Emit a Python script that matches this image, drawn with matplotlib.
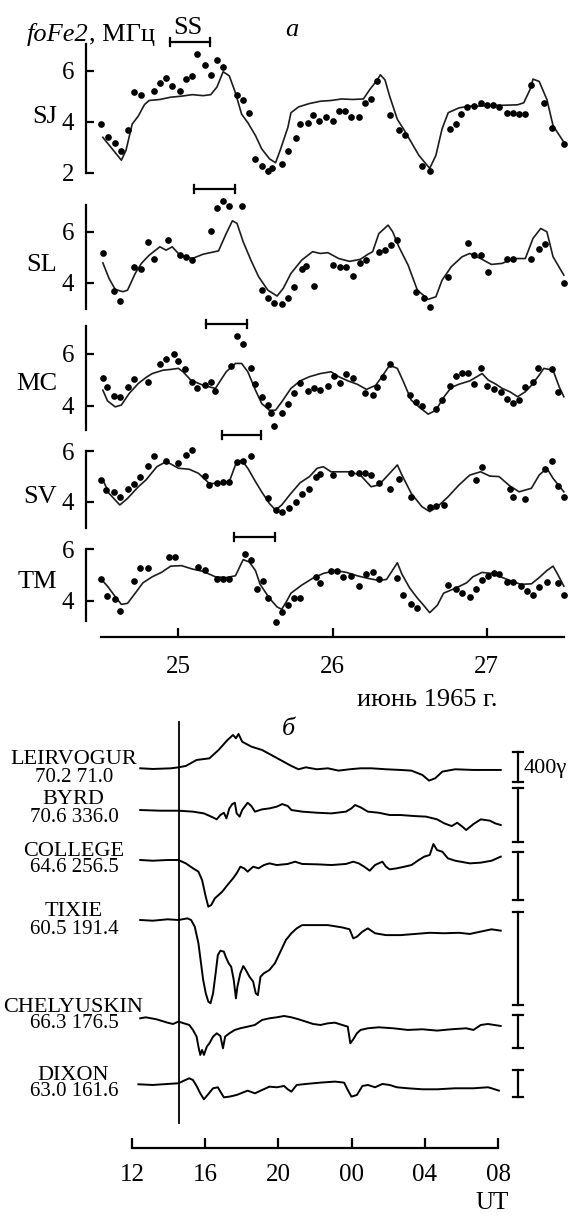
import numpy as np
import matplotlib
matplotlib.use("Agg")
import matplotlib.pyplot as plt
from matplotlib.text import Annotation
from matplotlib.transforms import blended_transform_factory

plt.rcParams['font.family'] = ['Liberation Serif', 'DejaVu Serif']
plt.rcParams['font.size'] = 18

# ---------------- (a) foF2 at five stations, 24-27 June 1965 (day of month) ----------------
sj_dot_t = [24.50, 24.545, 24.59, 24.63, 24.67, 24.71, 24.76, 24.84, 24.88, 24.92, 24.96, 25.01, 25.05, 25.09, 25.12,
            25.17, 25.21, 25.25, 25.29, 25.38, 25.42, 25.46, 25.50, 25.54, 25.58, 25.61, 25.67, 25.71, 25.76, 25.79,
            25.84, 25.87, 25.91, 25.96, 26.00, 26.04, 26.08, 26.12, 26.17, 26.21, 26.25, 26.29, 26.37, 26.43, 26.47,
            26.58, 26.63, 26.76, 26.80, 26.83, 26.87, 26.92, 26.96, 27.00, 27.04, 27.08, 27.13, 27.17, 27.21, 27.25,
            27.29, 27.37, 27.42, 27.50]
sj_dot_f = [3.91, 3.39, 3.17, 2.85, 3.69, 5.17, 5.06, 5.23, 5.52, 5.72, 5.42, 5.21, 5.70, 5.81, 6.68,
            6.22, 5.83, 6.43, 6.17, 5.05, 4.85, 4.34, 2.54, 2.27, 2.08, 2.18, 2.34, 2.85, 3.38, 3.92,
            3.94, 4.26, 4.05, 4.19, 4.03, 4.44, 4.44, 4.19, 4.18, 4.75, 4.90, 5.60, 4.25, 3.66, 3.47,
            2.27, 2.08, 3.72, 3.90, 4.30, 4.59, 4.61, 4.75, 4.66, 4.68, 4.58, 4.36, 4.36, 4.32, 4.32,
            5.46, 4.75, 3.74, 3.12]
sj_line_t = [24.51, 24.63, 24.66, 24.70, 24.74, 24.78, 24.81, 24.88, 24.95, 25.02, 25.09, 25.16, 25.21, 25.25, 25.29,
             25.33, 25.37, 25.41, 25.45, 25.50, 25.54, 25.59, 25.63, 25.66, 25.71, 25.73, 25.78, 25.85, 25.92, 25.99,
             26.06, 26.13, 26.20, 26.24, 26.29, 26.31, 26.34, 26.37, 26.42, 26.46, 26.51, 26.56, 26.63, 26.67, 26.71,
             26.75, 26.82, 26.89, 26.96, 27.03, 27.10, 27.20, 27.24, 27.28, 27.30, 27.34, 27.39, 27.43, 27.50]
sj_line_f = [3.39, 2.49, 2.88, 3.91, 4.23, 4.68, 4.84, 4.88, 4.97, 5.01, 5.07, 5.03, 5.07, 5.37, 5.97,
             5.81, 5.14, 4.30, 3.97, 3.46, 2.94, 2.55, 2.39, 2.88, 3.78, 4.36, 4.59, 4.72, 4.81, 4.84,
             4.90, 4.88, 4.90, 5.26, 5.65, 5.85, 5.65, 5.01, 4.10, 3.72, 3.20, 2.68, 2.17, 2.68, 3.72,
             4.36, 4.55, 4.62, 4.62, 4.65, 4.65, 4.67, 4.75, 5.26, 5.68, 5.59, 4.88, 3.85, 3.20]

sl_dot_t = [24.51, 24.58, 24.62, 24.71, 24.76, 24.80, 24.84, 24.93, 25.01, 25.05, 25.09, 25.21, 25.25, 25.29, 25.33,
            25.41, 25.54, 25.58, 25.62, 25.67, 25.71, 25.75, 25.80, 25.83, 25.88, 26.00, 26.05, 26.09, 26.13, 26.18,
            26.22, 26.30, 26.34, 26.38, 26.42, 26.54, 26.59, 26.63, 26.75, 26.88, 26.92, 26.96, 27.01, 27.13, 27.17,
            27.29, 27.34, 27.38, 27.50]
sl_dot_f = [5.15, 3.67, 3.29, 4.60, 4.55, 5.58, 4.92, 5.69, 5.08, 5.02, 4.88, 6.04, 6.93, 7.22, 7.01,
            7.01, 3.70, 3.42, 3.19, 3.15, 3.39, 3.84, 4.54, 4.65, 3.87, 4.69, 4.61, 4.61, 4.26, 4.77,
            4.88, 5.20, 5.27, 5.48, 5.66, 3.63, 3.40, 3.06, 4.21, 5.56, 5.07, 5.07, 4.42, 4.94, 4.95,
            4.94, 5.33, 5.52, 4.01]
sl_line_t = [24.51, 24.55, 24.59, 24.64, 24.67, 24.72, 24.76, 24.81, 24.88, 24.92, 24.96, 25.01, 25.09, 25.16, 25.26,
             25.31, 25.35, 25.38, 25.42, 25.47, 25.52, 25.58, 25.64, 25.68, 25.73, 25.80, 25.87, 25.92, 25.97, 26.04,
             26.11, 26.18, 26.23, 26.26, 26.30, 26.36, 26.39, 26.43, 26.49, 26.55, 26.62, 26.67, 26.71, 26.77, 26.84,
             26.89, 26.96, 27.03, 27.10, 27.17, 27.25, 27.30, 27.35, 27.39, 27.43, 27.50]
sl_line_f = [4.78, 4.17, 3.74, 3.65, 3.71, 4.37, 4.76, 5.08, 5.41, 5.28, 5.41, 5.08, 4.95, 5.12, 5.25,
             5.93, 6.43, 6.33, 5.61, 4.89, 4.24, 3.71, 3.48, 3.78, 4.37, 4.89, 5.22, 5.15, 5.18, 4.95,
             4.84, 4.92, 5.12, 5.22, 5.93, 6.26, 6.00, 5.41, 4.69, 3.71, 3.35, 3.45, 4.10, 4.63, 5.02,
             5.15, 4.95, 4.72, 4.76, 4.95, 4.95, 5.74, 6.13, 6.00, 5.02, 4.30]

mc_dot_t = [24.51, 24.54, 24.58, 24.62, 24.67, 24.71, 24.80, 24.88, 24.92, 24.97, 25.00, 25.04, 25.09, 25.12, 25.17,
            25.21, 25.24, 25.34, 25.38, 25.42, 25.47, 25.50, 25.54, 25.58, 25.60, 25.62, 25.67, 25.71, 25.75, 25.79,
            25.84, 25.88, 25.92, 25.97, 26.01, 26.05, 26.09, 26.13, 26.21, 26.26, 26.29, 26.33, 26.37, 26.50, 26.54,
            26.58, 26.67, 26.71, 26.76, 26.80, 26.84, 26.88, 26.92, 26.96, 27.00, 27.05, 27.09, 27.13, 27.17, 27.21,
            27.25, 27.30, 27.33, 27.42, 27.46]
mc_dot_f = [5.08, 4.73, 4.37, 4.35, 4.73, 5.04, 4.91, 5.60, 5.81, 6.00, 5.72, 5.40, 4.92, 4.69, 4.81,
            4.91, 4.58, 5.54, 6.69, 6.37, 5.44, 4.83, 4.35, 4.04, 3.71, 3.22, 3.71, 4.06, 4.50, 4.87,
            4.58, 4.68, 4.59, 4.78, 5.14, 4.88, 5.22, 5.06, 4.50, 4.42, 4.73, 5.09, 5.59, 4.42, 4.13,
            4.00, 3.88, 4.22, 4.76, 5.14, 5.27, 5.26, 4.83, 5.44, 4.77, 4.65, 4.55, 4.26, 4.10, 4.22,
            4.71, 4.92, 5.44, 5.40, 4.54]
mc_line_t = [24.51, 24.54, 24.59, 24.63, 24.68, 24.74, 24.79, 24.83, 24.90, 24.95, 25.00, 25.03, 25.08, 25.16, 25.24,
             25.31, 25.37, 25.41, 25.45, 25.50, 25.54, 25.59, 25.63, 25.67, 25.73, 25.79, 25.85, 25.92, 25.99, 26.04,
             26.10, 26.16, 26.22, 26.28, 26.32, 26.37, 26.42, 26.46, 26.51, 26.56, 26.62, 26.67, 26.72, 26.77, 26.82,
             26.89, 26.97, 27.01, 27.06, 27.10, 27.15, 27.20, 27.25, 27.29, 27.34, 27.37, 27.43, 27.47, 27.50]
mc_line_f = [4.60, 4.19, 3.96, 4.03, 4.47, 4.86, 5.09, 5.24, 5.37, 5.40, 5.44, 5.31, 4.99, 4.79, 4.67,
             5.31, 5.63, 5.63, 5.31, 4.60, 4.09, 3.83, 3.83, 4.15, 4.67, 4.96, 5.12, 5.24, 5.31, 5.12,
             4.96, 4.83, 4.63, 4.79, 5.12, 5.56, 5.44, 4.92, 4.22, 3.96, 3.68, 3.83, 4.32, 4.71, 4.83,
             4.96, 5.24, 4.99, 4.83, 4.67, 4.54, 4.35, 4.54, 4.79, 5.18, 5.44, 5.37, 4.73, 4.35]

sv_dot_t = [24.50, 24.53, 24.58, 24.62, 24.67, 24.71, 24.75, 24.80, 24.84, 24.92, 25.00, 25.05, 25.09, 25.17, 25.20,
            25.25, 25.29, 25.33, 25.38, 25.42, 25.47, 25.58, 25.63, 25.67, 25.72, 25.76, 25.80, 25.85, 25.89, 25.92,
            26.00, 26.12, 26.17, 26.21, 26.25, 26.30, 26.37, 26.43, 26.51, 26.63, 26.67, 26.72, 26.93, 26.97, 27.15,
            27.17, 27.25, 27.38, 27.42, 27.46, 27.50]
sv_dot_f = [4.86, 4.46, 4.39, 4.17, 4.49, 4.68, 4.96, 5.42, 5.82, 5.62, 5.51, 5.86, 6.03, 5.03, 4.67,
            4.75, 4.79, 4.79, 5.55, 5.61, 5.82, 4.13, 3.67, 3.59, 3.74, 4.00, 4.30, 4.50, 4.99, 5.09,
            5.05, 5.12, 5.12, 5.12, 5.05, 4.72, 4.50, 4.88, 4.17, 3.80, 3.83, 3.87, 4.86, 5.36, 4.49,
            4.17, 4.09, 5.28, 5.62, 4.62, 4.17]
sv_line_t = [24.51, 24.55, 24.62, 24.67, 24.74, 24.79, 24.86, 24.92, 24.95, 25.00, 25.07, 25.13, 25.20, 25.26, 25.33,
             25.37, 25.41, 25.45, 25.50, 25.54, 25.59, 25.63, 25.67, 25.73, 25.79, 25.85, 25.90, 25.94, 25.99, 26.05,
             26.11, 26.18, 26.25, 26.30, 26.36, 26.42, 26.45, 26.51, 26.58, 26.63, 26.68, 26.75, 26.82, 26.89, 26.96,
             27.02, 27.08, 27.15, 27.21, 27.29, 27.34, 27.39, 27.43, 27.50]
sv_line_f = [4.86, 4.33, 3.87, 4.13, 4.59, 4.86, 5.38, 5.58, 5.49, 5.32, 5.28, 5.12, 4.72, 4.72, 4.79,
             5.45, 5.64, 5.32, 4.79, 4.39, 3.93, 3.67, 3.87, 4.33, 4.75, 4.99, 5.32, 5.38, 5.18, 5.18,
             5.18, 5.05, 4.59, 4.66, 5.05, 5.45, 5.05, 4.33, 3.80, 3.61, 3.80, 4.20, 4.66, 5.05, 5.18,
             5.01, 4.99, 4.62, 4.39, 4.53, 5.05, 5.32, 4.92, 4.39]

tm_dot_t = [24.50, 24.54, 24.59, 24.62, 24.71, 24.75, 24.80, 24.94, 24.98, 25.13, 25.17, 25.25, 25.29, 25.33, 25.43,
            25.47, 25.51, 25.55, 25.58, 25.63, 25.67, 25.71, 25.75, 25.79, 25.89, 25.92, 25.99, 26.03, 26.07, 26.12,
            26.17, 26.22, 26.26, 26.30, 26.42, 26.46, 26.51, 26.55, 26.75, 26.80, 26.84, 26.89, 26.93, 26.97, 27.01,
            27.05, 27.08, 27.13, 27.17, 27.22, 27.26, 27.30, 27.34, 27.39, 27.46, 27.50]
tm_dot_f = [4.83, 4.21, 4.08, 3.62, 4.77, 5.27, 5.27, 5.68, 5.70, 5.32, 5.19, 4.83, 4.83, 4.83, 5.79,
            5.59, 4.48, 4.77, 4.13, 3.21, 3.58, 3.84, 4.13, 4.13, 4.93, 4.70, 5.17, 5.17, 4.93, 4.97,
            4.57, 5.03, 5.10, 4.86, 4.87, 4.24, 3.87, 3.74, 4.61, 4.48, 4.30, 4.17, 4.48, 4.79, 4.97,
            5.06, 5.03, 4.73, 4.73, 4.57, 4.40, 4.24, 4.53, 4.73, 4.70, 4.24]
tm_line_t = [24.50, 24.54, 24.59, 24.63, 24.67, 24.72, 24.77, 24.83, 24.89, 24.95, 25.02, 25.09, 25.16, 25.24, 25.31,
             25.37, 25.42, 25.46, 25.50, 25.53, 25.59, 25.64, 25.67, 25.70, 25.73, 25.80, 25.87, 25.94, 26.02, 26.09,
             26.16, 26.23, 26.30, 26.35, 26.38, 26.42, 26.45, 26.50, 26.55, 26.59, 26.63, 26.68, 26.72, 26.80, 26.87,
             26.91, 26.97, 27.03, 27.09, 27.15, 27.22, 27.29, 27.34, 27.39, 27.43, 27.46, 27.50]
tm_line_f = [4.83, 4.57, 4.17, 3.87, 3.91, 4.30, 4.70, 4.93, 5.10, 5.34, 5.36, 5.23, 5.14, 4.93, 4.90,
             4.97, 5.59, 5.50, 5.17, 4.64, 4.11, 3.77, 3.68, 3.97, 4.30, 4.61, 4.87, 5.06, 5.17, 5.10,
             4.97, 4.87, 4.79, 4.83, 5.10, 5.47, 5.03, 4.50, 4.11, 3.84, 3.55, 3.84, 4.30, 4.50, 4.70,
             4.93, 5.10, 5.06, 4.93, 4.79, 4.64, 4.66, 4.90, 5.17, 5.34, 5.03, 4.57]

# storm (SS) intervals marked above each panel, days
ss_start = [24.946, 25.103, 25.180, 25.280, 25.358]
ss_end = [25.208, 25.365, 25.443, 25.535, 25.628]

# ---------------- (b) magnetograms, hours UT from 24 June 00 UT, deviation in gamma ----------------
stations = ["LEIRVOGUR", "BYRD", "COLLEGE", "TIXIE", "CHELYUSKIN", "DIXON"]
coords = ["70.2 71.0", "70.6 336.0", "64.6 256.5", "60.5 191.4", "66.3 176.5", "63.0 161.6"]

leir_h = [12.45, 13.14, 14.14, 14.54, 14.94, 15.53, 16.23, 16.73, 17.22, 17.52, 17.68, 17.82, 18.02, 18.52, 19.11,
          19.61, 20.11, 20.71, 21.10, 21.50, 22.10, 22.70, 23.29, 23.89, 24.49, 25.08, 25.88, 26.68, 27.27, 27.87,
          28.23, 28.57, 28.96, 29.66, 30.65, 31.45, 32.15]
leir_g = [0, -9, 0, 13, 31, 111, 133, 244, 378, 444, 400, 458, 355, 289, 244,
          178, 111, 31, -13, 13, -13, 0, -31, -13, 0, 0, -13, -22, -31, -89,
          -164, -133, -44, -13, -22, -22, -22]
byrd_h = [12.45, 13.54, 14.54, 15.33, 15.93, 16.33, 16.63, 16.83, 17.02, 17.16, 17.32, 17.48, 17.62, 17.72, 17.88,
          18.02, 18.32, 18.52, 18.72, 19.11, 19.51, 19.91, 20.21, 20.51, 20.71, 21.30, 22.10, 22.89, 23.69, 23.99,
          24.19, 24.49, 24.89, 25.48, 26.08, 26.68, 27.47, 28.07, 28.67, 29.07, 29.47, 29.77, 30.06, 30.26, 30.66,
          31.06, 31.56, 31.85, 32.15]
byrd_g = [5, 0, 0, -7, -20, -44, -64, -32, -15, -57, 17, 49, 59, -20, -44,
          5, 59, 35, -7, 10, 17, 30, 49, 35, 5, -7, -15, -20, -7, 17,
          42, 25, -7, -15, -32, -32, -40, -44, -64, -94, -114, -89, -119, -143, -99,
          -64, -74, -94, -106]
coll_h = [12.45, 13.14, 13.94, 14.54, 14.94, 15.33, 15.63, 15.83, 16.03, 16.17, 16.33, 16.53, 16.73, 16.93, 17.22,
          17.52, 17.72, 17.92, 18.12, 18.32, 18.62, 18.92, 19.21, 19.51, 19.91, 20.51, 20.91, 21.30, 22.10, 22.90,
          23.69, 24.09, 24.39, 24.69, 24.99, 25.28, 25.68, 25.88, 26.08, 26.48, 26.88, 27.27, 27.67, 27.97, 28.27,
          28.47, 28.67, 28.96, 29.26, 29.66, 30.46, 31.06, 31.65, 32.15]
coll_g = [0, -6, 0, 0, -28, -69, -97, -167, -306, -389, -375, -319, -292, -264, -208,
          -153, -111, -56, -69, -97, -56, -69, -42, -28, -42, -33, -14, -33, -36, -42,
          -33, -14, -28, -56, -89, -42, -14, -56, -78, -69, -56, -42, 0, 28, 42,
          133, 83, 69, 14, -6, -28, -22, -6, 28]
tixi_h = [12.45, 13.14, 13.94, 14.54, 15.03, 15.23, 15.43, 15.63, 15.77, 15.89, 16.03, 16.17, 16.29, 16.43, 16.57,
          16.69, 16.83, 17.02, 17.12, 17.28, 17.42, 17.56, 17.68, 17.76, 17.92, 18.08, 18.22, 18.42, 18.62, 18.76,
          18.88, 19.02, 19.21, 19.51, 19.81, 20.11, 20.41, 20.71, 21.00, 21.30, 21.90, 22.70, 23.49, 23.89, 24.09,
          24.29, 24.59, 24.89, 25.28, 25.88, 26.68, 27.47, 28.27, 29.06, 29.86, 30.46, 31.05, 31.65, 32.15]
tixi_g = [0, -3, 3, 0, 7, 0, -29, -100, -186, -258, -315, -351, -358, -315, -229,
          -151, -132, -136, -158, -186, -201, -258, -337, -287, -229, -198, -215, -244, -265, -315,
          -323, -244, -229, -215, -186, -136, -86, -57, -36, -22, -22, -22, -32, -40, -79,
          -72, -50, -36, -57, -65, -65, -60, -55, -57, -55, -60, -50, -40, -46]
chel_h = [12.45, 12.75, 13.34, 13.94, 14.24, 14.54, 14.84, 15.13, 15.33, 15.53, 15.63, 15.73, 15.83, 15.93, 16.09,
          16.23, 16.43, 16.63, 16.83, 16.97, 17.09, 17.32, 17.62, 17.92, 18.32, 18.71, 19.11, 19.51, 19.91, 20.31,
          20.71, 21.10, 21.50, 21.90, 22.30, 22.70, 23.09, 23.49, 23.79, 23.93, 24.09, 24.29, 24.49, 24.89, 25.48,
          26.28, 27.07, 27.87, 28.67, 29.46, 30.26, 30.66, 31.06, 31.45, 32.15]
chel_g = [0, 12, -12, -53, -69, -40, -61, -81, -141, -222, -343, -444, -384, -444, -343,
          -303, -222, -182, -214, -364, -222, -182, -141, -121, -101, -81, -20, 0, 12, 28,
          12, -12, -40, -69, -81, -61, -53, -81, -101, -303, -255, -182, -141, -121, -109,
          -121, -141, -133, -149, -133, -121, -141, -81, -69, -93]
dixo_h = [12.35, 13.14, 13.94, 14.54, 14.84, 15.13, 15.33, 15.53, 15.73, 15.93, 16.13, 16.43, 16.69, 16.83, 17.02,
          17.32, 17.72, 18.32, 18.72, 19.11, 19.51, 19.91, 20.31, 20.51, 20.71, 21.00, 21.50, 22.30, 23.09, 23.59,
          23.79, 23.99, 24.29, 24.59, 24.89, 25.28, 25.68, 26.08, 26.47, 27.07, 27.87, 28.67, 29.66, 30.66, 31.45,
          31.65, 32.05]
dixo_g = [0, -10, 5, 15, 54, 89, 64, -25, -134, -222, -158, -59, -44, -109, -193,
          -183, -158, -94, -134, -84, -35, -44, -25, -74, -109, -10, 5, 25, 40, 25,
          -84, -183, -158, -25, -10, -44, 5, -10, -44, -59, -74, -74, -59, -59, -44,
          -59, -94]

ssc_hour = 14.55          # vertical marker
scale_gamma = 400         # each bar on the right = 400 gamma
xtick_h = [12, 16, 20, 24, 28, 32]
xtick_lbl = ["12", "16", "20", "00", "04", "08"]

# ---------------- layout (pixels of the 571x1216 image) ----------------
W, H = 571, 1216
fig = plt.figure(figsize=(W / 100, H / 100), dpi=100)
PT = 0.72   # px -> pt


def box(l, t, r, b):
    return [l / W, 1 - b / H, (r - l) / W, (b - t) / H]


def fy(y):
    return 1 - y / H


# name, dots, line, (ylo, yhi), top px, bottom px, yticks, bracket y px, label y px
panels = [
    ("SJ", sj_dot_t, sj_dot_f, sj_line_t, sj_line_f, (2.0, 7.05), 44.3, 172.7, [2, 4, 6], 41.7, 117),
    ("SL", sl_dot_t, sl_dot_f, sl_line_t, sl_line_f, (2.96, 7.05), 205, 309.3, [4, 6], 189, 265),
    ("MC", mc_dot_t, mc_dot_f, mc_line_t, mc_line_f, (3.07, 7.07), 326, 430, [4, 6], 324, 384),
    ("SV", sv_dot_t, sv_dot_f, sv_line_t, sv_line_f, (2.95, 6.0), 451, 528.3, [4, 6], 435, 497),
    ("TM", tm_dot_t, tm_dot_f, tm_line_t, tm_line_f, (3.23, 6.0), 549, 621, [4, 6], 537.3, 582),
]

for i, (name, dt, df, lt, lf, ylim, top, bot, yt, by, ly) in enumerate(panels):
    ax = fig.add_axes(box(85.6, top, 568, bot))
    ax.set_xlim(24.398, 27.527)
    ax.set_ylim(*ylim)
    ax.patch.set_alpha(0)
    for s in ["top", "right", "bottom"]:
        ax.spines[s].set_visible(False)
    ax.spines["left"].set_linewidth(1.6)
    ax.set_yticks(yt)
    ax.tick_params(axis="y", direction="in", length=8.4 * PT, width=1.6, pad=8, labelsize=18)
    ax.plot(lt, lf, color="#1c1c1c", lw=1.2, clip_on=False)
    ax.plot(dt, df, "o", color="k", ms=3.8, clip_on=False)

    # SS interval bracket
    tr = blended_transform_factory(ax.transData, fig.transFigure)
    ax.plot([ss_start[i], ss_end[i]], [fy(by), fy(by)], transform=tr, color="k", lw=1.6, clip_on=False)
    for t in (ss_start[i], ss_end[i]):
        ax.plot([t, t], [fy(by - 4), fy(by + 4)], transform=tr, color="k", lw=1.6, clip_on=False)

    fig.text(57 / W, fy(ly), name, ha="right", va="center", fontsize=19)

    if name == "TM":
        ax.spines["bottom"].set_visible(True)
        ax.spines["bottom"].set_position(("outward", 16 * PT))
        ax.spines["bottom"].set_bounds(24.5, 27.5)
        ax.spines["bottom"].set_linewidth(1.6)
        ax.set_xticks([25, 26, 27])
        ax.set_xticklabels(["25", "26", "27"])
        ax.tick_params(axis="x", direction="in", length=9 * PT, width=1.6, pad=14, labelsize=18)
    else:
        ax.set_xticks([])

# headings of panel a
t1 = fig.text(27 / W, fy(35), "foFe2", style="italic", ha="left", va="center", fontsize=19)
fig.add_artist(Annotation(", МГц", xy=(1, 0), xycoords=t1, va="bottom", ha="left", fontsize=19))
fig.text(188 / W, fy(28), "SS", ha="center", va="center", fontsize=19)
fig.text(292 / W, fy(30), "а", style="italic", ha="center", va="center", fontsize=19)
fig.text(427 / W, fy(700), "июнь 1965 г.", ha="center", va="center", fontsize=19)
fig.text(288 / W, fy(729), "б", style="italic", ha="center", va="center", fontsize=19)

# ---------------- panel b ----------------
axb = fig.add_axes(box(132, 700, 498, 1147.7))
axb.set_xlim(12, 32)
axb.set_ylim(1147.7, 700)   # y in image pixels, downwards
axb.patch.set_alpha(0)
for s in ["top", "right", "left"]:
    axb.spines[s].set_visible(False)
axb.spines["bottom"].set_bounds(12, 32)
axb.spines["bottom"].set_linewidth(1.6)
axb.set_yticks([])
axb.set_xticks(xtick_h)
axb.set_xticklabels(xtick_lbl)
axb.tick_params(axis="x", direction="in", length=10 * PT, width=1.6, pad=12, labelsize=18)

traces = [(leir_h, leir_g), (byrd_h, byrd_g), (coll_h, coll_g), (tixi_h, tixi_g), (chel_h, chel_g), (dixo_h, dixo_g)]
base_px = [768.3, 810.7, 860, 920, 1018.3, 1084.3]
gain_px = [30, 54, 48, 93, 33, 27]          # pixels per 400 gamma
bar_top = [751.5, 788, 852, 912, 1015, 1070]
name_y = [760, 800, 851, 912, 1007, 1075]
bar_h = 33.09

for k, (h, g) in enumerate(traces):
    y = base_px[k] - np.array(g) / scale_gamma * gain_px[k]
    axb.plot(h, y, color="k", lw=1.4, clip_on=False)
    # scale bar
    y0, y1 = bar_top[k], bar_top[k] + gain_px[k]
    axb.plot([bar_h, bar_h], [y0, y1], color="k", lw=1.6, clip_on=False)
    for yy in (y0, y1):
        axb.plot([bar_h - 0.28, bar_h + 0.28], [yy, yy], color="k", lw=1.6, clip_on=False)
    fig.text(73.5 / W, fy(name_y[k]), stations[k], ha="center", va="center", fontsize=16)
    fig.text(74 / W, fy(name_y[k] + 17), coords[k], ha="center", va="center", fontsize=15)

axb.plot([ssc_hour, ssc_hour], [722, 1123], color="k", lw=1.3)
fig.text(524 / W, fy(768), "400γ", ha="left", va="center", fontsize=16)
fig.text(492 / W, fy(1203), "UT", ha="center", va="center", fontsize=18)

fig.savefig("out.png", dpi=100)
